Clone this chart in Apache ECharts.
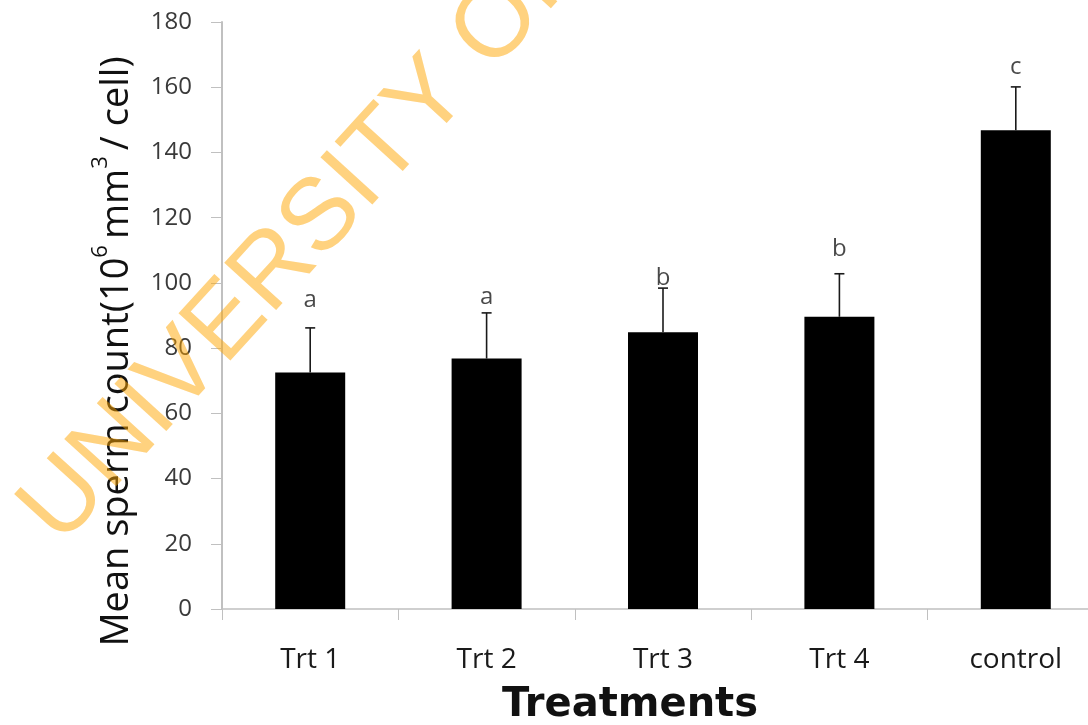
<!DOCTYPE html>
<html>
<head>
<meta charset="utf-8">
<script src="https://cdn.jsdelivr.net/npm/echarts@6/dist/echarts.min.js"></script>
<style>
html,body{margin:0;padding:0;background:#fff;overflow:hidden;width:1088px;height:725px;}
#chart{width:1104px;height:725px;}
</style>
</head>
<body>
<div id="chart"></div>
<script>
const categories = ['Trt 1', 'Trt 2', 'Trt 3', 'Trt 4', 'control'];
const meanCount = [72.5, 76.8, 84.9, 89.6, 146.8];
const errorUp = [13.7, 14.0, 13.5, 13.2, 13.3];
const letters = ['a', 'a', 'b', 'b', 'c'];
const letterY = [94.8, 95.5, 101.6, 110.2, 166];
const yTicks = [0, 20, 40, 60, 80, 100, 120, 140, 160, 180];

const FONT = '"Open Sans", Lato, sans-serif';
const chart = echarts.init(document.getElementById('chart'), null, {renderer: 'canvas', width: 1104, height: 725});

const option = {
  backgroundColor: '#ffffff',
  animation: false,
  grid: {left: 222, top: 22, right: 0, bottom: 116, containLabel: false, outerBoundsMode: 'none'},
  xAxis: {
    type: 'category',
    data: categories,
    axisLine: {lineStyle: {color: '#c0c0c0', width: 1.5}},
    axisTick: {show: true, inside: false, length: 11, alignWithLabel: false, lineStyle: {color: '#c0c0c0', width: 1}},
    axisLabel: {fontFamily: FONT, fontSize: 28, color: '#1a1a1a', margin: 37},
    name: 'Treatments',
    nameLocation: 'middle',
    nameGap: 77,
    nameTextStyle: {fontFamily: '"DejaVu Sans", sans-serif', fontWeight: 'bold', fontSize: 40, color: '#111', padding: [0, 66, 0, 0]}
  },
  yAxis: {
    type: 'value',
    min: 0, max: 180, interval: 20,
    axisLine: {show: true, lineStyle: {color: '#c0c0c0', width: 2}},
    axisTick: {show: true, inside: false, length: 11, lineStyle: {color: '#c0c0c0', width: 1}},
    splitLine: {show: false},
    axisLabel: {fontFamily: FONT, fontSize: 24, color: '#3a3a3a', margin: 30,
      formatter: v => (yTicks.indexOf(v) >= 0 ? String(v) : '')},
    name: '{m|Mean sperm count(10}{s|6}{m|mm}{s|3}{m|/ cell)}',
    nameLocation: 'middle',
    nameRotate: 90,
    nameGap: 86,
    nameTextStyle: {
      padding: [0, 72, 0, 0],
      rich: {
        m: {fontFamily: FONT, fontSize: 38, color: '#111', verticalAlign: 'bottom', lineHeight: 46},
        s: {fontFamily: FONT, fontSize: 22, color: '#111', verticalAlign: 'top', lineHeight: 46, padding: [0, 6, 0, 0]}
      }
    }
  },
  series: [
    {
      type: 'bar',
      data: meanCount,
      barWidth: 70,
      itemStyle: {color: '#000000'},
      z: 2
    },
    {
      type: 'custom',
      data: meanCount.map((m, i) => [i, m, m + errorUp[i]]),
      renderItem: function (params, api) {
        const base = api.coord([api.value(0), api.value(1)]);
        const top = api.coord([api.value(0), api.value(2)]);
        const half = 5;
        return {
          type: 'group',
          children: [
            {type: 'line', shape: {x1: base[0], y1: base[1], x2: top[0], y2: top[1]}, style: {stroke: '#1a1a1a', lineWidth: 1.6}},
            {type: 'line', shape: {x1: top[0] - half, y1: top[1], x2: top[0] + half, y2: top[1]}, style: {stroke: '#1a1a1a', lineWidth: 1.6}}
          ]
        };
      },
      z: 3
    },
    {
      type: 'scatter',
      data: letterY.map((y, i) => [i, y]),
      symbolSize: 0,
      label: {
        show: true, position: 'inside',
        formatter: p => letters[p.dataIndex],
        fontFamily: FONT, fontSize: 24, color: '#1a1a1a'
      },
      z: 4
    }
  ],
  graphic: [
    {
      type: 'text',
      x: 40, y: 528,
      rotation: 0.8325,
      z: 100,
      silent: true,
      style: {
        text: 'UNIVERSITY OF IBADAN LIBRARY',
        font: '102px "Liberation Sans", Arial, sans-serif',
        fill: '#FFA500',
        opacity: 0.5,
        align: 'left',
        verticalAlign: 'middle'
      }
    }
  ]
};
chart.setOption(option);
</script>
</body>
</html>
